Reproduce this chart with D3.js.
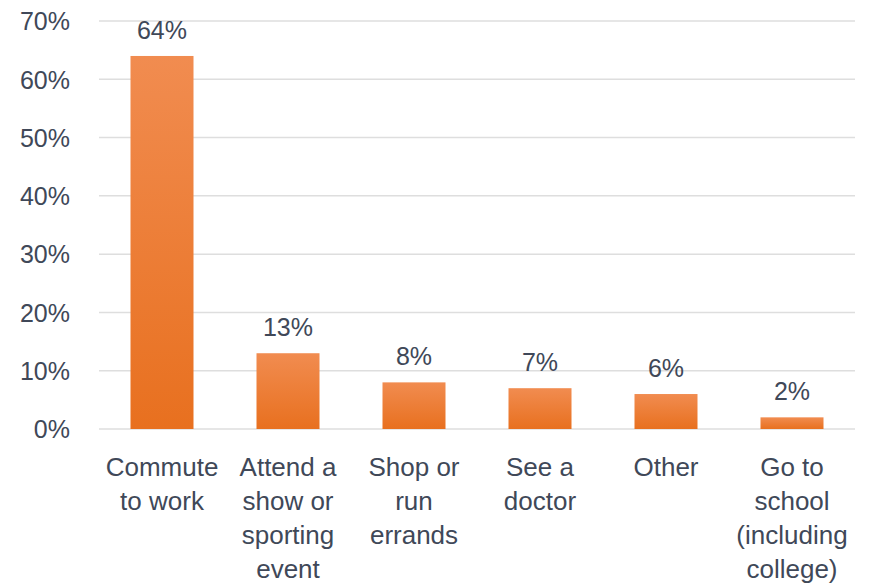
<!DOCTYPE html>
<html>
<head>
<meta charset="utf-8">
<script src="https://cdn.jsdelivr.net/npm/d3@7"></script>
<style>
  html, body { margin: 0; padding: 0; background: #fff; }
  svg text { font-family: "Liberation Sans", Arial, sans-serif; fill: #404858; }
</style>
</head>
<body>
<svg id="chart" width="876" height="586"></svg>
<script>
const categories = [
  ["Commute", "to work"],
  ["Attend a", "show or", "sporting", "event"],
  ["Shop or", "run", "errands"],
  ["See a", "doctor"],
  ["Other"],
  ["Go to", "school", "(including", "college)"]
];
const values = [64, 13, 8, 7, 6, 2];
const yTicks = [0, 10, 20, 30, 40, 50, 60, 70];

const svg = d3.select("#chart");
const margin = { left: 99, right: 21, top: 21, bottom: 157 };
const W = 876, H = 586;

const x = d3.scaleBand()
  .domain(d3.range(values.length))
  .range([margin.left, W - margin.right])
  .paddingInner(0.5)
  .paddingOuter(0.25);

const y = d3.scaleLinear()
  .domain([0, 70])
  .range([H - margin.bottom, margin.top]);

// vertical gradient for the bars
const defs = svg.append("defs");
const grad = defs.append("linearGradient")
  .attr("id", "barGrad")
  .attr("x1", 0).attr("y1", 0).attr("x2", 0).attr("y2", 1);
grad.append("stop").attr("offset", "0%").attr("stop-color", "#f18c50");
grad.append("stop").attr("offset", "100%").attr("stop-color", "#e8701f");

// gridlines
svg.append("g")
  .selectAll("line")
  .data(yTicks)
  .join("line")
  .attr("x1", margin.left)
  .attr("x2", W - margin.right)
  .attr("y1", d => y(d))
  .attr("y2", d => y(d))
  .attr("stroke", "#dedede")
  .attr("stroke-width", 1.5);

// y-axis labels
const yAxis = d3.axisLeft(y)
  .tickValues(yTicks)
  .tickFormat(d => d + "%")
  .tickSize(0)
  .tickPadding(0);
const gy = svg.append("g")
  .attr("transform", `translate(70,0)`)
  .call(yAxis);
gy.select(".domain").remove();
gy.selectAll("text")
  .attr("font-size", 25)
  .attr("font-family", "Liberation Sans, Arial, sans-serif")
  .attr("dy", "0.35em")
  .style("fill", "#404858");

// bars
svg.append("g")
  .selectAll("rect")
  .data(values)
  .join("rect")
  .attr("x", (d, i) => x(i))
  .attr("width", x.bandwidth())
  .attr("y", d => y(d))
  .attr("height", d => y(0) - y(d))
  .attr("fill", "url(#barGrad)");

// value labels
svg.append("g")
  .selectAll("text")
  .data(values)
  .join("text")
  .attr("x", (d, i) => x(i) + x.bandwidth() / 2)
  .attr("y", d => y(d) - 17)
  .attr("text-anchor", "middle")
  .attr("font-size", 25)
  .text(d => d + "%");

// category labels
const cat = svg.append("g")
  .selectAll("text")
  .data(categories)
  .join("text")
  .attr("x", (d, i) => x(i) + x.bandwidth() / 2)
  .attr("y", 476)
  .attr("text-anchor", "middle")
  .attr("font-size", 26);
cat.selectAll("tspan")
  .data(d => d)
  .join("tspan")
  .attr("x", function () { return d3.select(this.parentNode).attr("x"); })
  .attr("dy", (d, i) => i === 0 ? 0 : 34)
  .text(d => d);
</script>
</body>
</html>
